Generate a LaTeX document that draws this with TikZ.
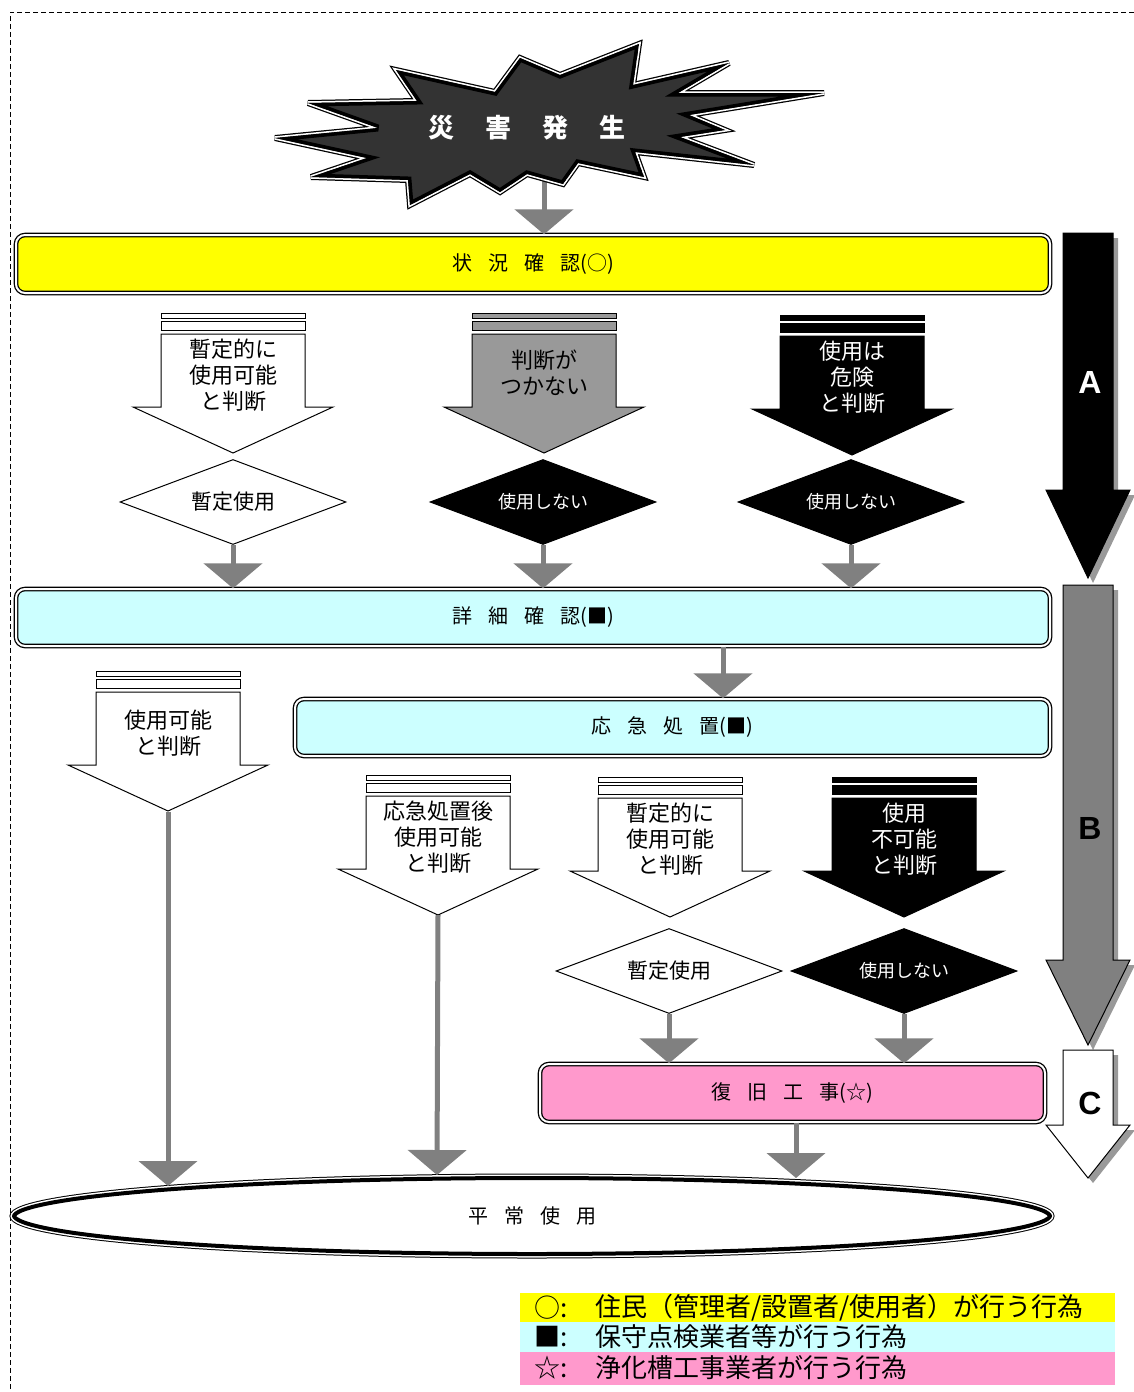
\documentclass[tikz,border=0pt]{standalone}
\usepackage{fontspec}
\setmainfont{Noto Sans CJK JP}
\newfontfamily\abcfont{Liberation Sans}
\usetikzlibrary{shapes.geometric,arrows.meta}
\definecolor{gline}{HTML}{808080}
\definecolor{barY}{HTML}{FFFF00}
\definecolor{barC}{HTML}{CCFFFF}
\definecolor{barP}{HTML}{FF99CC}
\definecolor{midgray}{HTML}{999999}
\definecolor{burstfill}{HTML}{333333}
\definecolor{shadowgray}{HTML}{999999}
\newcommand\blkarrow[3]{%
  \filldraw[fill=#3, draw=black, line width=1pt] (#1-72,#2) rectangle (#1+72,#2+5);
  \filldraw[fill=#3, draw=black, line width=1pt] (#1-72,#2+8) rectangle (#1+72,#2+17);
  \filldraw[fill=#3, draw=black, line width=1pt, line join=miter] (#1-72,#2+21) -- (#1+72,#2+21) -- (#1+72,#2+94) -- (#1+100,#2+94) -- (#1,#2+140) -- (#1-100,#2+94) -- (#1-72,#2+94) -- cycle;
}
\newcommand\bigarrow[4]{%
  \fill[shadowgray, shift={(5,5)}] (1063,#1) -- (1113,#1) -- (1113,#2) -- (1130,#2) -- (1088,#3) -- (1046,#2) -- (1063,#2) -- cycle;
  \filldraw[fill=#4, draw=black, line width=1pt] (1063,#1) -- (1113,#1) -- (1113,#2) -- (1130,#2) -- (1088,#3) -- (1046,#2) -- (1063,#2) -- cycle;
}
\newcommand\burstpoly{(275,138) -- (378,128) -- (308,103) -- (417,101) -- (396,70) -- (495,92) -- (520,58) -- (560,75) -- (639,44) -- (633,85) -- (729,63) -- (678,93) -- (824,93) -- (689,115) -- (725,130) -- (680,137) -- (754,165) -- (635,152) -- (644,177) -- (578,163) -- (563,184) -- (527,174) -- (500,192) -- (470,174) -- (410,205) -- (408,180) -- (311,177) -- (367,158) -- cycle}
\tikzset{
  garrow/.style={draw=gline, line width=5pt, -{Triangle[width=58pt,length=25pt]}},
  bar/.style={rectangle, rounded corners=9pt, draw=black, line width=1.3pt, double=white, double distance=2pt, font=\fontsize{20}{24}\selectfont},
  atext/.style={align=center, font=\fontsize{22}{26}\selectfont, inner sep=0pt},
  dia/.style={diamond, aspect=2.66, minimum width=226pt, minimum height=85pt, inner sep=0pt, draw=black, line width=1pt, font=\fontsize{21}{24}\selectfont},
  bdia/.style={dia, fill=black, text=white, font=\fontsize{18}{22}\selectfont},
  legtext/.style={anchor=west, inner sep=0pt, font=\fontsize{26}{30}\selectfont},
  bigletter/.style={font=\abcfont\bfseries\fontsize{32}{32}\selectfont}
}
\begin{document}
\begin{tikzpicture}[x=1pt,y=-1pt]
\useasboundingbox (0,0) rectangle (1134,1392);
\fill[white] (0,0) rectangle (1134,1392);
% frame
\draw[dash pattern=on 5pt off 3pt, line width=1pt] (1134,12) -- (10,12) -- (10,1392);

% bars
\node[bar, fill=barY, minimum width=1034pt, minimum height=58pt] (bar1) at (533,264) {状\hspace{16pt}況\hspace{16pt}確\hspace{16pt}認(○)};
\node[bar, fill=barC, minimum width=1034pt, minimum height=57pt] (bar2) at (533,617.5) {詳\hspace{16pt}細\hspace{16pt}確\hspace{16pt}認(■)};
\node[bar, fill=barC, minimum width=755pt, minimum height=57pt] (bar3) at (672.5,727.5) {応\hspace{16pt}急\hspace{16pt}処\hspace{16pt}置(■)};
\node[bar, fill=barP, minimum width=505pt, minimum height=58pt] (bar4) at (792.5,1093) {復\hspace{16pt}旧\hspace{16pt}工\hspace{16pt}事(☆)};

% arrow from burst
\coordinate (bb) at (544,180);
\draw[garrow] (bb) -- (bb |- bar1.north);

% starburst
\draw[black, line width=6pt, line join=miter, miter limit=4] \burstpoly;
\draw[white, line width=3.5pt, line join=miter, miter limit=4] \burstpoly;
\begin{scope}
  \clip \burstpoly;
  \fill[burstfill] \burstpoly;
  \draw[black, line width=7pt, line join=miter, miter limit=4] \burstpoly;
\end{scope}
\node[text=white, font=\bfseries\fontsize{26}{30}\selectfont] (burst) at (527,128) {災\hspace{31pt}害\hspace{31pt}発\hspace{31pt}生};

% row 1 block arrows
\blkarrow{233}{313}{white}
\node[atext] (t1) at (233,375) {暫定的に\\使用可能\\と判断};
\blkarrow{544}{313}{midgray}
\node[atext] (t2) at (544,373) {判断が\\つかない};
\blkarrow{852}{315}{black}
\node[atext, text=white] (t3) at (852,377) {使用は\\危険\\と判断};

% row 1 diamonds
\node[dia, fill=white] (d1) at (233,502) {暫定使用};
\node[bdia] (d2) at (543,502) {使用しない};
\node[bdia] (d3) at (851,502) {使用しない};
\draw[garrow] (d1.south) -- (d1.south |- bar2.north);
\draw[garrow] (d2.south) -- (d2.south |- bar2.north);
\draw[garrow] (d3.south) -- (d3.south |- bar2.north);

% bar2 to bar3
\coordinate (xk) at (723,650);
\draw[garrow] (xk |- bar2.south) -- (xk |- bar3.north);

% lower block arrows
\blkarrow{168}{671}{white}
\node[atext] (t4) at (168,733) {使用可能\\と判断};
\blkarrow{438}{775}{white}
\node[atext] (t5) at (438,837) {応急処置後\\使用可能\\と判断};
\blkarrow{670}{777}{white}
\node[atext] (t6) at (670,839) {暫定的に\\使用可能\\と判断};
\blkarrow{904}{777}{black}
\node[atext, text=white] (t7) at (904,839) {使用\\不可能\\と判断};

\node[dia, fill=white] (d4) at (669,971) {暫定使用};
\node[bdia] (d5) at (904,971) {使用しない};
\draw[garrow] (d4.south) -- (d4.south |- bar4.north);
\draw[garrow] (d5.south) -- (d5.south |- bar4.north);

% ellipse
\draw[black, line width=5pt] (532,1216) ellipse [x radius=520pt, y radius=40pt];
\draw[white, line width=3pt] (532,1216) ellipse [x radius=520pt, y radius=40pt];
\begin{scope}
  \clip (532,1216) ellipse [x radius=520pt, y radius=40pt];
  \fill[white] (532,1216) ellipse [x radius=520pt, y radius=40pt];
  \draw[black, line width=8pt] (532,1216) ellipse [x radius=520pt, y radius=40pt];
\end{scope}
\node[ellipse, minimum width=1040pt, minimum height=80pt, inner sep=0pt, font=\fontsize{20}{24}\selectfont] (ell) at (532,1216) {平\hspace{16pt}常\hspace{16pt}使\hspace{16pt}用};

% connectors to ellipse
\coordinate (tipL) at (168,812);
\coordinate (e1) at (168,1186);
\draw[garrow] (tipL) -- (e1);
\coordinate (tipM) at (438,915);
\coordinate (e2) at (437,1175);
\draw[garrow] (tipM) -- (e2);
\coordinate (e3) at (796,1178);
\draw[garrow] (e3 |- bar4.south) -- (e3);

% big side arrows
\bigarrow{233}{490}{578}{black}
\node[bigletter, text=white] (labA) at (1090,382) {A};
\bigarrow{585}{960}{1045}{gline}
\node[bigletter] (labB) at (1090,828) {B};
\bigarrow{1050}{1125}{1178}{white}
\node[bigletter] (labC) at (1090,1103) {C};

% legend
\fill[barY] (520,1293) rectangle (1115,1322);
\fill[barC] (520,1322) rectangle (1115,1352);
\fill[barP] (520,1352) rectangle (1115,1385);
\node[legtext] (s1) at (534,1308) {○:};
\node[legtext] (l1) at (595,1308) {住民（管理者/設置者/使用者）が行う行為};
\node[legtext] (s2) at (534,1337) {■:};
\node[legtext] (l2) at (595,1337) {保守点検業者等が行う行為};
\node[legtext] (s3) at (534,1368) {☆:};
\node[legtext] (l3) at (595,1368) {浄化槽工事業者が行う行為};
\end{tikzpicture}
\end{document}
